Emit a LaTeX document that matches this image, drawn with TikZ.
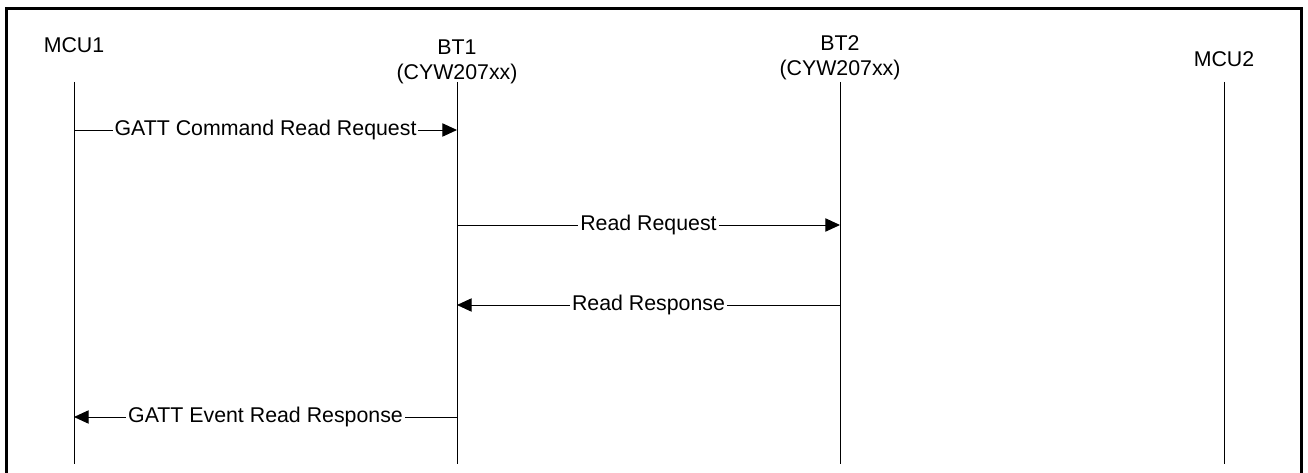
\documentclass[tikz,border=0pt]{standalone}
\usepackage{fontspec}
\setmainfont{Liberation Sans}
\usetikzlibrary{arrows.meta,calc}

\begin{document}
\begin{tikzpicture}[x=0.75pt,y=-0.75pt,
  font=\fontsize{16}{18.75}\selectfont,
  head/.style={inner sep=0pt, align=center},
  lifeline/.style={line width=0.7pt},
  msg/.style={line width=0.7pt, -{Triangle[length=11pt,width=10pt]}},
  msglabel/.style={fill=white, inner xsep=1.5pt, inner ysep=0pt}]
\useasboundingbox (0,0) rectangle (1308,473);
% frame, open at the bottom
\draw[line width=2.25pt] (6,474) -- (6,8.5) -- (1301,8.5) -- (1301,474);
% heads
\node[head] (mcu1) at (74,45.5) {MCU1};
\node[head] (bt1) at (457,61.5) {BT1\\(CYW207xx)};
\node[head] (bt2) at (840,58) {BT2\\(CYW207xx)};
\node[head] (mcu2) at (1224,59) {MCU2};
% lifelines
\coordinate (mcu1top) at (74,82);
\coordinate (bt1top) at (457,82);
\coordinate (bt2top) at (840,82);
\coordinate (mcu2top) at (1224,82);
\coordinate (bottom) at (0,464);
\foreach \l in {mcu1,bt1,bt2,mcu2}
  \draw[lifeline] (\l top) -- (\l top |- bottom);
% message heights
\coordinate (y1) at (0,130);
\coordinate (y2) at (0,225);
\coordinate (y3) at (0,305);
\coordinate (y4) at (0,417);
% messages
\draw[msg] (mcu1top |- y1) -- node[msglabel] (cmdreq) {GATT Command Read Request} (bt1top |- y1);
\draw[msg] (bt1top |- y2) -- node[msglabel] (readreq) {Read Request} (bt2top |- y2);
\draw[msg] (bt2top |- y3) -- node[msglabel] (readrsp) {Read Response} (bt1top |- y3);
\draw[msg] (bt1top |- y4) -- node[msglabel] (evtrsp) {GATT Event Read Response} (mcu1top |- y4);
\end{tikzpicture}
\end{document}
